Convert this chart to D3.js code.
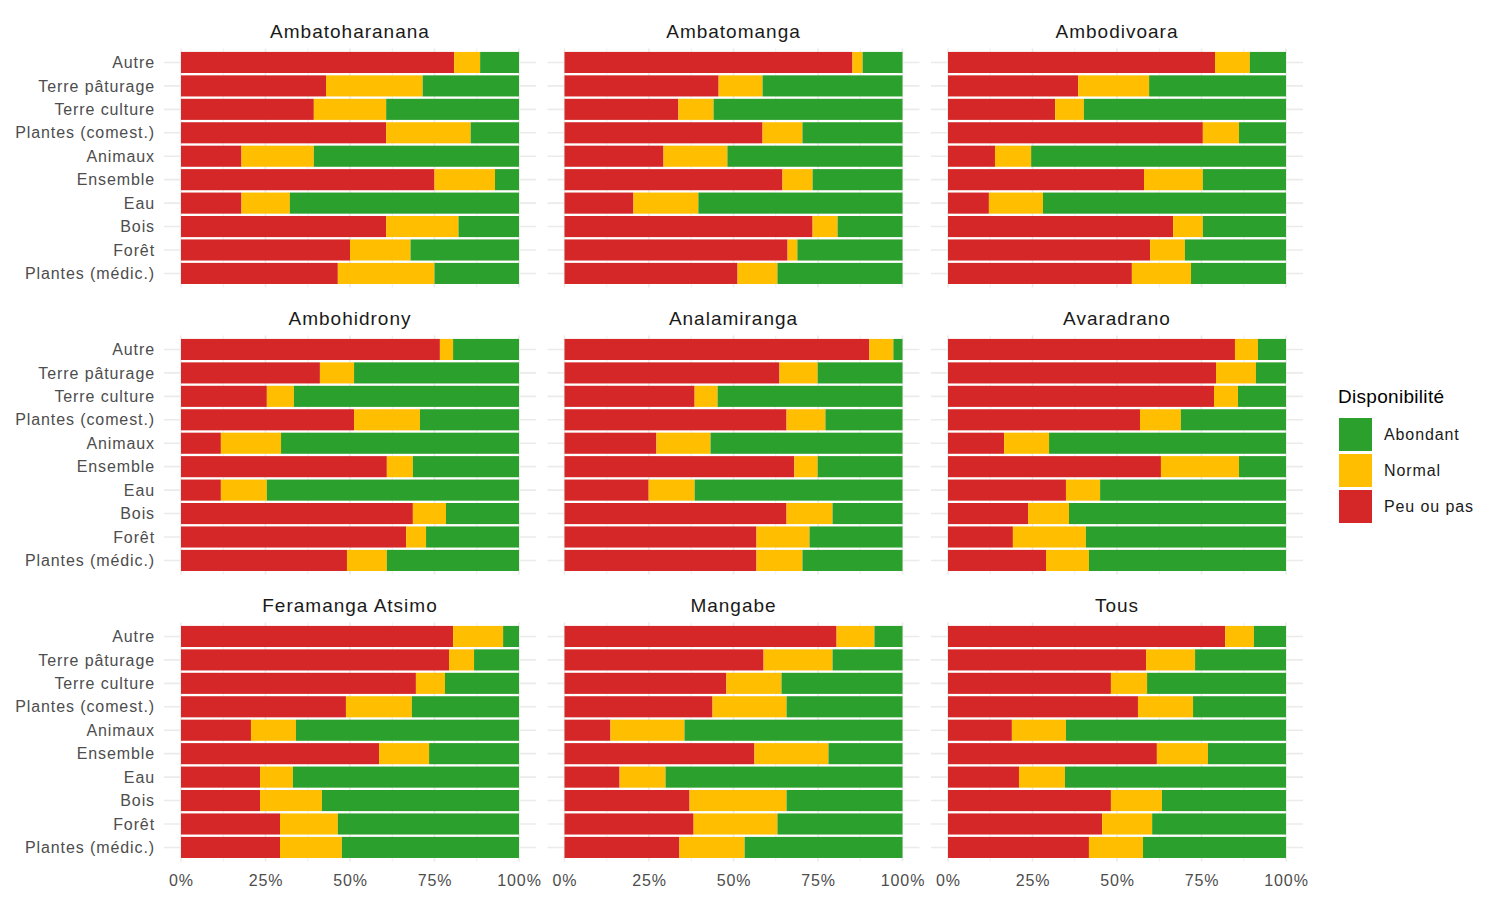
<!DOCTYPE html>
<html>
<head>
<meta charset="utf-8">
<script src="https://cdn.jsdelivr.net/npm/d3@7"></script>
<style>
  html, body { margin: 0; padding: 0; background: #fff; }
  text { font-family: Arial, "Liberation Sans", sans-serif; }
</style>
</head>
<body>
<svg id="chart" width="1500" height="900"></svg>
<script>
// ---------------- DATA ----------------
const facets = ["Ambatoharanana", "Ambatomanga", "Ambodivoara",
                "Ambohidrony", "Analamiranga", "Avaradrano",
                "Feramanga Atsimo", "Mangabe", "Tous"];

const categories = ["Autre", "Terre pâturage", "Terre culture", "Plantes (comest.)",
                    "Animaux", "Ensemble", "Eau", "Bois", "Forêt", "Plantes (médic.)"];

const seriesNames = ["Peu ou pas", "Normal", "Abondant"];
const legendOrder = ["Abondant", "Normal", "Peu ou pas"];
const legendTitle = "Disponibilité";

const xTicks = [0, 0.25, 0.5, 0.75, 1];
const xTickLabels = ["0%", "25%", "50%", "75%", "100%"];

// values in percent, one row per facet, in category order
const peuOuPas = [
  [80.8, 42.9, 39.3, 60.7, 17.9, 75.0, 17.9, 60.7, 50.0, 46.4],
  [85.2, 45.6, 33.7, 58.6, 29.3, 64.5, 20.4, 73.4, 66.0, 51.2],
  [79.0, 38.5, 31.7, 75.4, 13.9, 58.0, 12.1, 66.6, 59.8, 54.4],
  [76.6, 41.1, 25.4, 51.2, 11.8, 60.9, 11.8, 68.6, 66.6, 49.1],
  [90.2, 63.6, 38.5, 65.7, 27.2, 68.0, 24.9, 65.7, 56.8, 56.8],
  [84.9, 79.3, 78.7, 56.8, 16.6, 63.0, 34.9, 23.7, 19.2, 29.0],
  [80.5, 79.3, 69.5, 48.8, 20.7, 58.6, 23.4, 23.4, 29.3, 29.3],
  [80.5, 58.9, 47.9, 43.8, 13.6, 56.2, 16.3, 37.0, 38.2, 34.0],
  [82.0, 58.6, 48.2, 56.2, 18.9, 61.8, 21.0, 48.2, 45.6, 41.7]
];
const normal = [
  [ 7.7, 28.6, 21.4, 25.0, 21.4, 17.9, 14.3, 21.4, 17.9, 28.6],
  [ 3.0, 13.0, 10.4, 11.8, 18.9,  8.9, 19.2,  7.4,  2.9, 11.8],
  [10.3, 21.0,  8.5, 10.7, 10.7, 17.4, 16.0,  8.8, 10.3, 17.5],
  [ 3.9, 10.1,  8.0, 19.5, 17.8,  7.7, 13.6,  9.8,  5.9, 11.8],
  [ 7.1, 11.3,  6.8, 11.5, 16.0,  6.9, 13.6, 13.6, 15.7, 13.6],
  [ 6.8, 11.8,  7.1, 12.1, 13.3, 23.1, 10.1, 12.1, 21.6, 12.7],
  [14.8,  7.4,  8.6, 19.5, 13.3, 14.8,  9.7, 18.3, 17.1, 18.3],
  [11.2, 20.4, 16.3, 21.9, 21.9, 21.9, 13.6, 28.7, 24.8, 19.3],
  [ 8.5, 14.5, 10.7, 16.3, 16.0, 15.1, 13.6, 15.1, 14.8, 16.0]
];
const abondant = [
  [11.5, 28.5, 39.3, 14.3, 60.7,  7.1, 67.8, 17.9, 32.1, 25.0],
  [11.8, 41.4, 55.9, 29.6, 51.8, 26.6, 60.4, 19.2, 31.1, 37.0],
  [10.7, 40.5, 59.8, 13.9, 75.4, 24.6, 71.9, 24.6, 29.9, 28.1],
  [19.5, 48.8, 66.6, 29.3, 70.4, 31.4, 74.6, 21.6, 27.5, 39.1],
  [ 2.7, 25.1, 54.7, 22.8, 56.8, 25.1, 61.5, 20.7, 27.5, 29.6],
  [ 8.3,  8.9, 14.2, 31.1, 70.1, 13.9, 55.0, 64.2, 59.2, 58.3],
  [ 4.7, 13.3, 21.9, 31.7, 66.0, 26.6, 66.9, 58.3, 53.6, 52.4],
  [ 8.3, 20.7, 35.8, 34.3, 64.5, 21.9, 70.1, 34.3, 37.0, 46.7],
  [ 9.5, 26.9, 41.1, 27.5, 65.1, 23.1, 65.4, 36.7, 39.6, 42.3]
];

const seriesData = { "Peu ou pas": peuOuPas, "Normal": normal, "Abondant": abondant };
const colors = { "Peu ou pas": "#d62728", "Normal": "#ffbf00", "Abondant": "#2ca02c" };

// ---------------- LAYOUT ----------------
const svg = d3.select("#chart");
const colX0 = [181, 564.5, 948];      // data 0% position per column
const dataW = 338;                    // 0% -> 100%
const expandX = 17;
const rowTop = [48.4, 335.4, 622.4];
const panelH = 239.1;
const txtLS = "0.9px";

const color = d3.scaleOrdinal().domain(seriesNames).range(seriesNames.map(s => colors[s]));

facets.forEach((facet, fi) => {
  const col = fi % 3, row = Math.floor(fi / 3);
  const x = d3.scaleLinear().domain([0, 1]).range([colX0[col], colX0[col] + dataW]);
  const y = d3.scalePoint().domain(categories).range([rowTop[row], rowTop[row] + panelH]).padding(0.6);
  const barH = y.step() * 0.9;
  const g = svg.append("g");
  const pTop = rowTop[row], pBot = rowTop[row] + panelH;
  const pLeft = x(0) - expandX, pRight = x(1) + expandX;

  // minor vertical gridlines
  const minor = [0.125, 0.375, 0.625, 0.875];
  g.selectAll(".minor").data(minor).enter().append("line")
    .attr("x1", d => x(d)).attr("x2", d => x(d))
    .attr("y1", pTop).attr("y2", pBot)
    .attr("stroke", "#ebebeb").attr("stroke-width", 0.8);
  // major vertical gridlines
  g.selectAll(".major").data(xTicks).enter().append("line")
    .attr("x1", d => x(d)).attr("x2", d => x(d))
    .attr("y1", pTop).attr("y2", pBot)
    .attr("stroke", "#ebebeb").attr("stroke-width", 1.6);
  // horizontal gridlines
  g.selectAll(".hgrid").data(categories).enter().append("line")
    .attr("x1", pLeft).attr("x2", pRight)
    .attr("y1", d => y(d)).attr("y2", d => y(d))
    .attr("stroke", "#ebebeb").attr("stroke-width", 1.6);

  // stacked bars
  const rows = categories.map((c, ci) => {
    const o = { cat: c };
    seriesNames.forEach(s => { o[s] = seriesData[s][fi][ci] / 100; });
    return o;
  });
  const stack = d3.stack().keys(seriesNames).offset(d3.stackOffsetExpand)(rows);
  stack.forEach(layer => {
    g.selectAll(null).data(layer).enter().append("rect")
      .attr("x", d => x(d[0]))
      .attr("width", d => Math.max(0, x(d[1]) - x(d[0])))
      .attr("y", d => y(d.data.cat) - barH / 2)
      .attr("height", barH)
      .attr("fill", color(layer.key));
  });

  // strip title
  svg.append("text")
    .attr("x", (pLeft + pRight) / 2).attr("y", pTop - 10.5)
    .attr("text-anchor", "middle")
    .attr("font-size", 19).attr("letter-spacing", "1px")
    .attr("fill", "#1a1a1a")
    .text(facet);

  // y axis labels (first column only)
  if (col === 0) {
    const yAxis = d3.axisLeft(y).tickSize(0).tickPadding(0);
    const ga = svg.append("g").attr("transform", `translate(${pLeft - 9},0)`).call(yAxis);
    ga.select(".domain").remove();
    ga.selectAll("text").attr("font-size", 16).attr("letter-spacing", txtLS)
      .attr("fill", "#4d4d4d").attr("font-family", "Arial, 'Liberation Sans', sans-serif");
  }
  // x axis labels (bottom row only)
  if (row === 2) {
    const xAxis = d3.axisBottom(x).tickValues(xTicks)
      .tickFormat((d, i) => xTickLabels[i]).tickSize(0).tickPadding(0);
    const gx = svg.append("g").attr("transform", `translate(0,${pBot + 13})`).call(xAxis);
    gx.select(".domain").remove();
    gx.selectAll("text").attr("font-size", 16).attr("letter-spacing", txtLS)
      .attr("fill", "#4d4d4d").attr("font-family", "Arial, 'Liberation Sans', sans-serif");
  }
});

// ---------------- LEGEND ----------------
const lg = svg.append("g").attr("transform", "translate(1338,0)");
lg.append("text").attr("x", 0).attr("y", 403).attr("font-size", 19)
  .attr("letter-spacing", "0.3px").attr("fill", "#000").text(legendTitle);
legendOrder.forEach((s, i) => {
  lg.append("rect").attr("x", 1).attr("y", 418 + i * 36).attr("width", 33).attr("height", 33)
    .attr("fill", color(s));
  lg.append("text").attr("x", 46).attr("y", 418 + i * 36 + 16.5).attr("dy", "0.35em")
    .attr("font-size", 16).attr("letter-spacing", txtLS).attr("fill", "#1a1a1a").text(s);
});
</script>
</body>
</html>
